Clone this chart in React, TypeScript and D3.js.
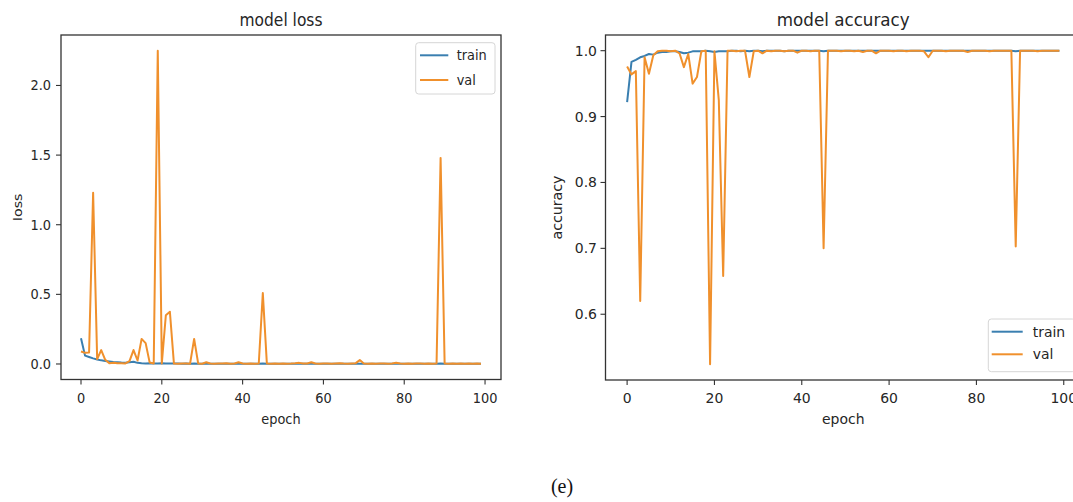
import React from 'react';
import * as d3 from 'd3';

// ---------- data ----------
const epochs: number[] = Array.from({ length: 100 }, (_, i) => i);

const trainLoss = [
  0.185, 0.060, 0.050, 0.040, 0.032, 0.026, 0.022, 0.018, 0.014, 0.012,
  0.010, 0.009, 0.012, 0.016, 0.008, 0.005, 0.004, 0.005, 0.004, 0.004,
  0.006, 0.004, 0.003, 0.004, 0.003, 0.002, 0.003, 0.002, 0.003, 0.002,
  0.002, 0.003, 0.002, 0.002, 0.001, 0.002, 0.002, 0.001, 0.002, 0.002,
  0.001, 0.002, 0.001, 0.001, 0.002, 0.004, 0.002, 0.001, 0.001, 0.002,
  0.001, 0.001, 0.002, 0.001, 0.001, 0.001, 0.002, 0.001, 0.001, 0.001,
  0.001, 0.001, 0.002, 0.001, 0.001, 0.001, 0.001, 0.001, 0.002, 0.001,
  0.001, 0.001, 0.001, 0.001, 0.001, 0.001, 0.001, 0.001, 0.001, 0.001,
  0.001, 0.001, 0.001, 0.001, 0.001, 0.001, 0.001, 0.001, 0.001, 0.003,
  0.002, 0.001, 0.001, 0.001, 0.001, 0.001, 0.001, 0.001, 0.001, 0.001,
];

const valLoss = [
  0.090, 0.080, 0.082, 1.230, 0.035, 0.100, 0.030, 0.006, 0.008, 0.005,
  0.006, 0.004, 0.020, 0.100, 0.025, 0.180, 0.150, 0.010, 0.003, 2.250,
  0.004, 0.350, 0.375, 0.003, 0.002, 0.004, 0.003, 0.002, 0.180, 0.004,
  0.002, 0.012, 0.003, 0.002, 0.004, 0.003, 0.005, 0.002, 0.004, 0.012,
  0.003, 0.002, 0.004, 0.002, 0.003, 0.510, 0.004, 0.002, 0.003, 0.002,
  0.004, 0.002, 0.003, 0.005, 0.008, 0.003, 0.004, 0.012, 0.003, 0.002,
  0.004, 0.003, 0.002, 0.004, 0.006, 0.003, 0.002, 0.004, 0.006, 0.028,
  0.004, 0.002, 0.003, 0.002, 0.004, 0.003, 0.002, 0.004, 0.009, 0.003,
  0.002, 0.003, 0.002, 0.004, 0.003, 0.002, 0.003, 0.002, 0.003, 1.480,
  0.003, 0.002, 0.003, 0.002, 0.004, 0.002, 0.003, 0.002, 0.003, 0.002,
];

const trainAcc = [
  0.922, 0.983, 0.986, 0.990, 0.992, 0.995, 0.994, 0.997, 0.998, 0.998,
  0.999, 0.999, 0.998, 0.996, 0.997, 0.999, 0.999, 0.999, 1.000, 0.999,
  0.998, 0.999, 0.999, 0.999, 1.000, 1.000, 0.999, 1.000, 0.999, 1.000,
  1.000, 0.999, 1.000, 1.000, 1.000, 1.000, 0.999, 1.000, 1.000, 1.000,
  1.000, 1.000, 1.000, 1.000, 1.000, 0.999, 1.000, 1.000, 1.000, 1.000,
  1.000, 1.000, 1.000, 1.000, 1.000, 1.000, 1.000, 1.000, 1.000, 1.000,
  1.000, 1.000, 1.000, 1.000, 1.000, 1.000, 1.000, 1.000, 1.000, 1.000,
  1.000, 1.000, 1.000, 1.000, 1.000, 1.000, 1.000, 1.000, 1.000, 1.000,
  1.000, 1.000, 1.000, 1.000, 1.000, 1.000, 1.000, 1.000, 1.000, 0.999,
  1.000, 1.000, 1.000, 1.000, 1.000, 1.000, 1.000, 1.000, 1.000, 1.000,
];

const valAcc = [
  0.976, 0.964, 0.969, 0.620, 0.990, 0.965, 0.993, 0.999, 1.000, 1.000,
  0.999, 1.000, 0.996, 0.975, 0.995, 0.950, 0.960, 0.999, 1.000, 0.524,
  0.999, 0.925, 0.658, 1.000, 1.000, 0.999, 1.000, 1.000, 0.960, 0.999,
  1.000, 0.996, 1.000, 0.999, 1.000, 1.000, 0.999, 1.000, 1.000, 0.997,
  1.000, 1.000, 0.999, 1.000, 1.000, 0.700, 1.000, 1.000, 1.000, 0.999,
  1.000, 1.000, 0.999, 1.000, 0.998, 1.000, 1.000, 0.996, 1.000, 1.000,
  1.000, 0.999, 1.000, 1.000, 0.999, 1.000, 1.000, 1.000, 0.999, 0.990,
  1.000, 1.000, 1.000, 0.999, 1.000, 1.000, 1.000, 1.000, 0.998, 1.000,
  1.000, 1.000, 1.000, 0.999, 1.000, 1.000, 1.000, 1.000, 1.000, 0.703,
  1.000, 1.000, 1.000, 1.000, 0.999, 1.000, 1.000, 1.000, 1.000, 1.000,
];

const xTickValues = [0, 20, 40, 60, 80, 100];
const lossTickValues = [0.0, 0.5, 1.0, 1.5, 2.0];
const accTickValues = [0.6, 0.7, 0.8, 0.9, 1.0];
const seriesNames = ['train', 'val'];
const titles = ['model loss', 'model accuracy'];
const yLabels = ['loss', 'accuracy'];
const xLabel = 'epoch';
const caption = '(e)';

// ---------- styles ----------
const W = 1073;
const H = 502;
const COLORS = ['#3a7fb0', '#f0902c'];
const TEXT = '#262626';
const FONT = "'DejaVu Sans', sans-serif";

type Layout = {
  left: number; right: number; top: number; bottom: number; sx: number;
  yLabelX: number; yTickEnd: number;
  legend: { x: number; y: number; w: number; h: number; r1: number; r2: number; lx1: number; lx2: number; tx: number };
};

const layouts: Layout[] = [
  {
    left: 61, right: 501, top: 35, bottom: 379.5, sx: 0.91, yLabelX: 22, yTickEnd: 51,
    legend: { x: 415.7, y: 42.7, w: 79.3, h: 51.3, r1: 55.3, r2: 80, lx1: 420, lx2: 448.3, tx: 456.7 },
  },
  {
    left: 605.5, right: 1081, top: 35, bottom: 380, sx: 0.985, yLabelX: 562, yTickEnd: 597,
    legend: { x: 988.3, y: 319, w: 87, h: 52.7, r1: 331.7, r2: 354.3, lx1: 991.7, lx2: 1022.7, tx: 1032.7 },
  },
];

function T({ x, y, sx, children, anchor = 'start', size = 14.2, rotate = false }: any) {
  const tr = rotate
    ? `translate(${x},${y}) rotate(-90) scale(1,${sx})`
    : `translate(${x},${y}) scale(${sx},1)`;
  return (
    <text transform={tr} textAnchor={anchor} fontSize={size} fontFamily={FONT} fill={TEXT}>
      {children}
    </text>
  );
}

function Panel({ idx, train, val, yTicks }: { idx: number; train: number[]; val: number[]; yTicks: number[] }) {
  const L = layouts[idx];
  const x = d3.scaleLinear().domain([-4.95, 103.95]).range([L.left, L.right]);
  const all = train.concat(val);
  const [mn, mx] = d3.extent(all) as [number, number];
  const pad = (mx - mn) * 0.05;
  const y = d3.scaleLinear().domain([mn - pad, mx + pad]).range([L.bottom, L.top]);
  const line = d3
    .line<number>()
    .x((_, i) => x(epochs[i]))
    .y((d) => y(d));
  const fmt = d3.format('.1f');
  const cx = (L.left + L.right) / 2;
  const cy = (L.top + L.bottom) / 2;
  const lg = L.legend;
  return (
    <g>
      {/* lines */}
      <path d={line(train) || ''} fill="none" stroke={COLORS[0]} strokeWidth={2} strokeLinejoin="round" />
      <path d={line(val) || ''} fill="none" stroke={COLORS[1]} strokeWidth={2} strokeLinejoin="round" />
      {/* frame */}
      <rect x={L.left} y={L.top} width={L.right - L.left} height={L.bottom - L.top} fill="none" stroke="#333" strokeWidth={1.3} />
      {/* x ticks */}
      {xTickValues.map((t) => (
        <g key={'x' + t}>
          <line x1={x(t)} x2={x(t)} y1={L.bottom} y2={L.bottom + 5} stroke="#333" strokeWidth={1.1} />
          <T x={x(t)} y={L.bottom + 23} sx={L.sx} anchor="middle">{String(t)}</T>
        </g>
      ))}
      {/* y ticks */}
      {yTicks.map((t) => (
        <g key={'y' + t}>
          <line x1={L.left - 5} x2={L.left} y1={y(t)} y2={y(t)} stroke="#333" strokeWidth={1.1} />
          <T x={L.yTickEnd} y={y(t) + 5} sx={L.sx} anchor="end">{fmt(t)}</T>
        </g>
      ))}
      {/* labels */}
      <T x={cx} y={26} sx={L.sx} anchor="middle" size={17}>{titles[idx]}</T>
      <T x={cx} y={424} sx={L.sx} anchor="middle">{xLabel}</T>
      <T x={L.yLabelX} y={cy} sx={L.sx} anchor="middle" rotate>{yLabels[idx]}</T>
      {/* legend */}
      <rect x={lg.x} y={lg.y} width={lg.w} height={lg.h} rx={3} fill="#fff" fillOpacity={0.8} stroke="#d6d6d6" strokeWidth={1} />
      {[lg.r1, lg.r2].map((ry, i) => (
        <g key={'lg' + i}>
          <line x1={lg.lx1} x2={lg.lx2} y1={ry} y2={ry} stroke={COLORS[i]} strokeWidth={2} />
          <T x={lg.tx} y={ry + 5} sx={L.sx}>{seriesNames[i]}</T>
        </g>
      ))}
    </g>
  );
}

export default function App() {
  return (
    <svg
      width={W}
      height={H}
      viewBox={`0 0 ${W} ${H}`}
      style={{ position: 'absolute', left: 0, top: 0, background: '#fff', display: 'block' }}
    >
      <rect x={0} y={0} width={W} height={H} fill="#fff" />
      <Panel idx={0} train={trainLoss} val={valLoss} yTicks={lossTickValues} />
      <Panel idx={1} train={trainAcc} val={valAcc} yTicks={accTickValues} />
      <text x={562} y={493} textAnchor="middle" fontSize={20} fontFamily="'Liberation Serif', 'Times New Roman', serif" fill="#111">
        {caption}
      </text>
    </svg>
  );
}
